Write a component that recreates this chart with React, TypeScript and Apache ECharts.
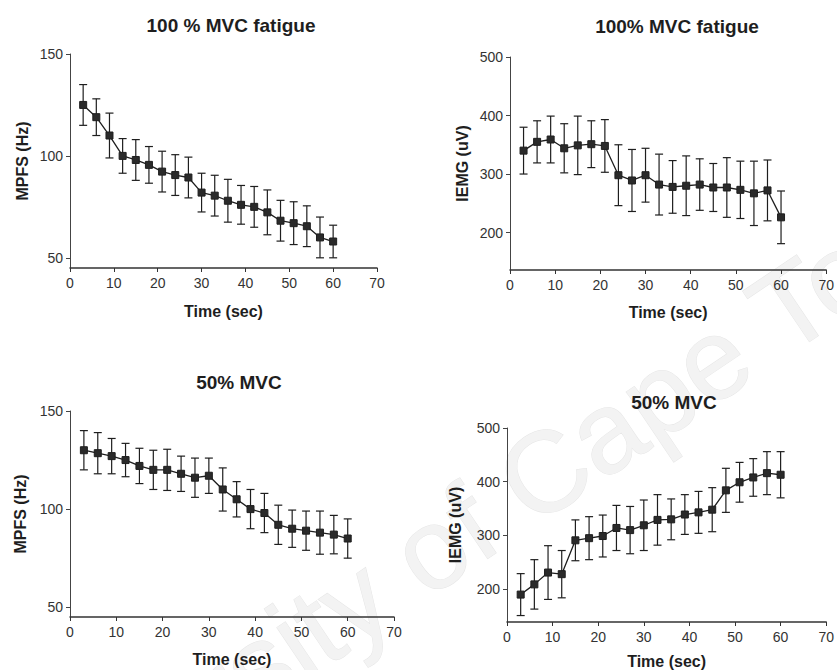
import React, { useEffect, useRef } from "react";
import * as echarts from "echarts";

const times = [3, 6, 9, 12, 15, 18, 21, 24, 27, 30, 33, 36, 39, 42, 45, 48, 51, 54, 57, 60];

const mpfs100 = [125, 119, 110, 100, 98, 95.6, 92.3, 90.6, 89.4, 82, 80.5, 78, 76, 75, 72.3, 68.2, 67, 65.5, 60, 58];
const mpfs100Err = [10, 9, 11, 8.5, 10, 9, 10, 10, 10, 9.5, 10, 10.5, 9.5, 10, 11, 10, 10.5, 10, 10, 8];

const iemg100 = [340, 355, 359, 344, 349, 351, 348, 298, 289, 298, 282, 278, 280, 282, 277, 277, 273, 267, 272, 226];
const iemg100Err = [40, 36, 40, 42, 50, 40, 45, 52, 53, 46, 52, 45, 51, 44, 41, 51, 49, 55, 52, 45];

const mpfs50 = [130, 128.5, 127, 125, 122, 120, 120, 118, 116, 117, 110, 105, 100, 98, 92, 90, 89, 88, 87, 85];
const mpfs50Err = [10, 10.5, 9, 8.5, 9, 10, 10.5, 9, 10, 9, 11, 9, 10, 10, 10, 9.5, 10, 11, 9.8, 10];

const iemg50 = [190, 209, 231, 228, 291, 295, 299, 314, 310, 319, 329, 330, 339, 343, 348, 384, 399, 408, 416, 413];
const iemg50Err = [39, 46, 50, 44, 38, 40, 39, 42, 44, 47, 47, 38, 37, 39, 41, 41, 37, 35, 40, 43];

const titles = ["100 % MVC fatigue", "100% MVC fatigue", "50% MVC", "50% MVC"];
const yNames = ["MPFS (Hz)", "IEMG (uV)", "MPFS (Hz)", "IEMG (uV)"];
const xName = "Time (sec)";
const mpfsTicks = [50, 100, 150];
const iemgTicks = [200, 300, 400, 500];
const xTicks = [0, 10, 20, 30, 40, 50, 60, 70];
const watermark = "University of Cape Town";

const FONT = "'Liberation Sans', Arial, Helvetica, sans-serif";
const INK = "#1e1e1e";

const panels = [
  { values: mpfs100, errs: mpfs100Err, ticks: mpfsTicks, ymin: 45, ymax: 150,
    grid: { left: 70, top: 54, width: 307, height: 214 }, title: [226, 22], yGap: 40, xGap: 35 },
  { values: iemg100, errs: iemg100Err, ticks: iemgTicks, ymin: 136, ymax: 500,
    grid: { left: 510, top: 57, width: 317, height: 213 }, title: [672, 23], yGap: 40, xGap: 34 },
  { values: mpfs50, errs: mpfs50Err, ticks: mpfsTicks, ymin: 45, ymax: 150,
    grid: { left: 70, top: 411, width: 324, height: 206 }, title: [234, 379], yGap: 42, xGap: 34 },
  { values: iemg50, errs: iemg50Err, ticks: iemgTicks, ymin: 139, ymax: 500,
    grid: { left: 507, top: 428, width: 324, height: 195 }, title: [669, 399], yGap: 44, xGap: 31 },
];

export default function App() {
  const ref = useRef<HTMLDivElement>(null);
  useEffect(() => {
    if (!ref.current) return;
    const chart = echarts.init(ref.current, null, { renderer: "svg" });
    const errRender = (params: any, api: any) => {
      const x = api.value(0);
      const lo = api.coord([x, api.value(1)]);
      const hi = api.coord([x, api.value(2)]);
      const w = 4;
      const style = { stroke: INK, lineWidth: 1.2 };
      return {
        type: "group",
        children: [
          { type: "line", shape: { x1: lo[0], y1: lo[1], x2: hi[0], y2: hi[1] }, style },
          { type: "line", shape: { x1: lo[0] - w, y1: lo[1], x2: lo[0] + w, y2: lo[1] }, style },
          { type: "line", shape: { x1: hi[0] - w, y1: hi[1], x2: hi[0] + w, y2: hi[1] }, style },
        ],
      };
    };
    const option: any = {
      animation: false,
      backgroundColor: "#ffffff",
      textStyle: { fontFamily: FONT },
      graphic: [
        {
          type: "text",
          x: 472,
          y: 521,
          rotation: (34 * Math.PI) / 180,
          silent: true,
          z: -10,
          style: {
            text: watermark,
            font: `115px ${FONT}`,
            fill: "#f3f3f3",
            stroke: "#e6e6e6",
            lineWidth: 1,
            align: "center",
            verticalAlign: "middle",
          },
        },
      ],
      title: panels.map((p, i) => ({
        text: titles[i],
        left: p.title[0],
        top: p.title[1] - 11,
        textAlign: "center",
        textStyle: { fontFamily: FONT, fontSize: 19, fontWeight: "bold", color: INK },
      })),
      grid: panels.map((p) => ({ ...p.grid, containLabel: false })),
      xAxis: panels.map((p, i) => ({
        type: "value",
        gridIndex: i,
        min: 0,
        max: 70,
        interval: 10,
        name: xName,
        nameLocation: "middle",
        nameGap: p.xGap,
        nameTextStyle: { fontFamily: FONT, fontSize: 16, fontWeight: "bold", color: INK },
        axisLine: { show: true, lineStyle: { color: "#333", width: 1.5 } },
        axisTick: { show: true, length: 4, lineStyle: { color: "#333" } },
        axisLabel: {
          margin: 8,
          fontSize: 14,
          color: "#333",
          fontFamily: FONT,
          formatter: (v: number) => (xTicks.includes(v) ? String(v) : ""),
        },
        splitLine: { show: false },
      })),
      yAxis: panels.map((p, i) => ({
        type: "value",
        gridIndex: i,
        min: p.ymin,
        max: p.ymax,
        name: yNames[i],
        nameLocation: "middle",
        nameGap: p.yGap,
        nameTextStyle: { fontFamily: FONT, fontSize: 16, fontWeight: "bold", color: INK },
        axisLine: { show: true, lineStyle: { color: "#444", width: 1 } },
        axisTick: { show: true, length: 4, customValues: p.ticks, lineStyle: { color: "#444" } },
        axisLabel: { margin: 7, fontSize: 14, color: "#333", fontFamily: FONT, customValues: p.ticks },
        splitLine: { show: false },
      })),
      series: panels.flatMap((p, i) => [
        {
          type: "custom",
          xAxisIndex: i,
          yAxisIndex: i,
          renderItem: errRender,
          encode: { x: 0, y: [1, 2] },
          data: times.map((t, k) => [t, p.values[k] - p.errs[k], p.values[k] + p.errs[k]]),
          z: 2,
        },
        {
          type: "line",
          xAxisIndex: i,
          yAxisIndex: i,
          data: times.map((t, k) => [t, p.values[k]]),
          symbol: "rect",
          symbolSize: 7,
          lineStyle: { color: INK, width: 1.3 },
          itemStyle: { color: "#2a2a2a", borderColor: INK, borderWidth: 1 },
          z: 3,
        },
      ]),
    };
    chart.setOption(option);
    return () => chart.dispose();
  }, []);
  return (
    <div
      ref={ref}
      style={{ position: "fixed", left: 0, top: 0, width: 837, height: 670, background: "#fff" }}
    />
  );
}
